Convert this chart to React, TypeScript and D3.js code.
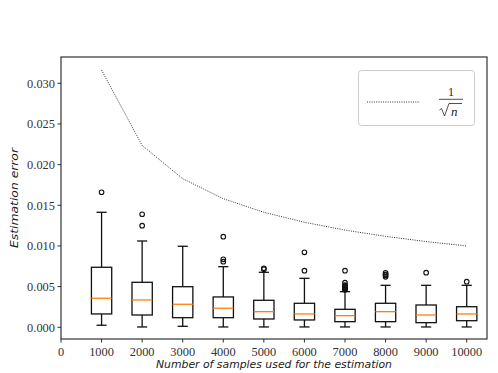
import React from "react";
import * as d3 from "d3";

const positions = [1000, 2000, 3000, 4000, 5000, 6000, 7000, 8000, 9000, 10000];
const whiskerLow = [0.00025, 0.00004, 0.00012, 0.00004, 0.00004, 0.00004, 0.00004, 0.00004, 0.00004, 0.00004];
const q1 = [0.00164, 0.00151, 0.00118, 0.00118, 0.00102, 0.0009, 0.00069, 0.00069, 0.00057, 0.00081];
const medians = [0.00357, 0.00336, 0.00283, 0.00234, 0.00192, 0.00164, 0.00143, 0.00192, 0.00151, 0.00164];
const q3 = [0.00738, 0.00553, 0.00499, 0.00373, 0.00332, 0.00295, 0.00221, 0.00295, 0.00274, 0.00253];
const whiskerHigh = [0.01414, 0.01061, 0.00996, 0.00745, 0.00676, 0.00602, 0.00438, 0.00516, 0.00516, 0.00516];
const outliers: number[][] = [
  [0.0166],
  [0.0139, 0.01249],
  [],
  [0.01114, 0.00836, 0.00807],
  [0.00725, 0.00715],
  [0.00922, 0.00696],
  [0.00696, 0.00548, 0.0052, 0.0051, 0.005, 0.0049, 0.0048, 0.0047, 0.0046],
  [0.0067, 0.0065, 0.0064, 0.0062],
  [0.00671],
  [0.00561],
];
const refLine = [0.03162, 0.02236, 0.01826, 0.01581, 0.01414, 0.01291, 0.01195, 0.01118, 0.01054, 0.01];
const xTicks = [0, 1000, 2000, 3000, 4000, 5000, 6000, 7000, 8000, 9000, 10000];
const yTicks = [0, 0.005, 0.01, 0.015, 0.02, 0.025, 0.03];

export default function App() {
  const W = 498, H = 373;
  const L = 61, R = 487, T = 57, B = 339;
  const x = d3.scaleLinear().domain([0, 10500]).range([L, R]);
  const y = d3.scaleLinear().domain([-0.00144, 0.03323]).range([B, T]);
  const boxW = x(500) - x(0);
  const capW = boxW / 2;
  const line = d3.line<number>().x((_, i) => x(positions[i])).y((d) => y(d));
  const tickFont = "'Liberation Serif', serif";
  const sw = 1.3;
  return (
    <svg width={W} height={H} style={{ position: "absolute", left: 0, top: 0, background: "#fff" }}>
      <rect x={0} y={0} width={W} height={H} fill="#fff" />
      <path d={line(refLine) || ""} fill="none" stroke="#333" strokeWidth={1} strokeDasharray="1,1.3" />
      {positions.map((p, i) => {
        const cx = x(p);
        return (
          <g key={p} stroke="#111" fill="none">
            <line x1={cx} x2={cx} y1={y(q1[i])} y2={y(whiskerLow[i])} strokeWidth={sw} />
            <line x1={cx} x2={cx} y1={y(q3[i])} y2={y(whiskerHigh[i])} strokeWidth={sw} />
            <line x1={cx - capW / 2} x2={cx + capW / 2} y1={y(whiskerLow[i])} y2={y(whiskerLow[i])} strokeWidth={sw} />
            <line x1={cx - capW / 2} x2={cx + capW / 2} y1={y(whiskerHigh[i])} y2={y(whiskerHigh[i])} strokeWidth={sw} />
            <rect x={cx - boxW / 2} y={y(q3[i])} width={boxW} height={y(q1[i]) - y(q3[i])} strokeWidth={sw} />
            <line x1={cx - boxW / 2} x2={cx + boxW / 2} y1={y(medians[i])} y2={y(medians[i])} stroke="#ff7f0e" strokeWidth={1.3} />
            {outliers[i].map((o, j) => (
              <circle key={j} cx={cx} cy={y(o)} r={2.3} strokeWidth={1.1} />
            ))}
          </g>
        );
      })}
      <rect x={L} y={T} width={R - L} height={B - T} fill="none" stroke="#333" strokeWidth={1.2} />
      {yTicks.map((t) => (
        <g key={t}>
          <line x1={L - 3.5} x2={L} y1={y(t)} y2={y(t)} stroke="#333" strokeWidth={1} />
          <text x={L - 6} y={y(t)} dy="0.35em" textAnchor="end" fontFamily={tickFont} fontSize={12.4} fill="#333">
            {t.toFixed(3)}
          </text>
        </g>
      ))}
      {xTicks.map((t) => (
        <g key={t}>
          <line x1={x(t)} x2={x(t)} y1={B} y2={B + 3.5} stroke="#333" strokeWidth={1} />
          <text x={x(t)} y={B + 13} dy="0.35em" textAnchor="middle" fontFamily={tickFont} fontSize={12.4} fill="#333">
            {t}
          </text>
        </g>
      ))}
      <text x={(L + R) / 2} y={368} textAnchor="middle" fontFamily="'DejaVu Sans', sans-serif" fontStyle="italic" fontSize={11} fill="#222" textLength={236} lengthAdjust="spacingAndGlyphs">
        Number of samples used for the estimation
      </text>
      <text transform={`translate(18, ${(T + B) / 2}) rotate(-90)`} textAnchor="middle" fontFamily="'DejaVu Sans', sans-serif" fontStyle="italic" fontSize={11} fill="#222" textLength={100} lengthAdjust="spacingAndGlyphs">
        Estimation error
      </text>
      <rect x={358.5} y={70.5} width={116} height={55} rx={3} fill="#fff" stroke="#ccc" strokeWidth={1} />
      <line x1={367} x2={420} y1={102} y2={102} stroke="#333" strokeWidth={1} strokeDasharray="1,1.3" />
      <text x={451} y={91.5} dy="0.35em" textAnchor="middle" fontFamily={tickFont} fontSize={12} fill="#222">1</text>
      <line x1={439} x2={463} y1={99.3} y2={99.3} stroke="#222" strokeWidth={0.8} />
      <path d="M439.5,110 L441.5,108.5 L444.5,116 L449,103.5 L462,103.5" fill="none" stroke="#222" strokeWidth={0.8} />
      <text x={451} y={111} dy="0.35em" fontFamily={tickFont} fontStyle="italic" fontSize={13} fill="#222">n</text>
    </svg>
  );
}
